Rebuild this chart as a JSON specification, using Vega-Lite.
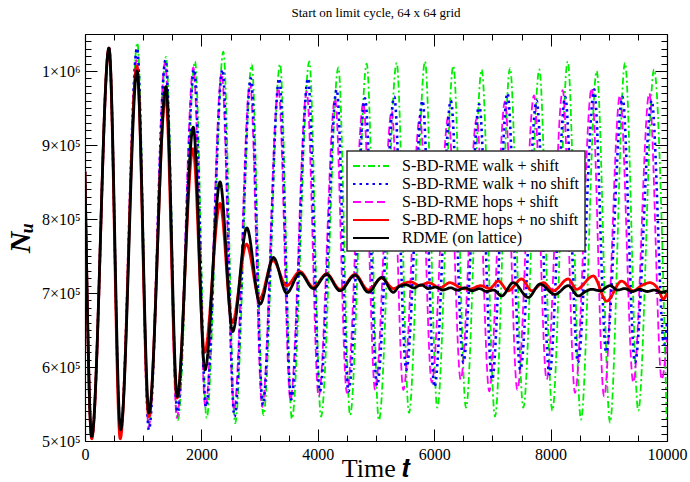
{
  "$schema": "https://vega.github.io/schema/vega-lite/v6.json",
  "width": 582,
  "height": 407,
  "autosize": "none",
  "padding": {"left": 85, "top": 34, "right": 23, "bottom": 41},
  "background": "white",
  "title": {"text": "Start on limit cycle, 64 x 64 grid", "font": "Liberation Serif", "fontSize": 13, "fontWeight": "normal", "color": "black", "anchor": "middle", "offset": 6},
  "config": {
    "view": {"stroke": null},
    "axis": {"domainColor": "black", "tickColor": "black", "labelColor": "black", "titleColor": "black", "grid": false, "domainWidth": 1.2, "tickWidth": 1},
    "legend": {"strokeWidth": 1.5, "labelFont": "Liberation Serif", "labelFontSize": 16}
  },
  "data": {"values": [
    {"series": "S-BD-RME walk + shift", "t": 0, "N": 864000},
    {"series": "S-BD-RME walk + shift", "t": 115, "N": 505000},
    {"series": "S-BD-RME walk + shift", "t": 412, "N": 1031000},
    {"series": "S-BD-RME walk + shift", "t": 612, "N": 506000},
    {"series": "S-BD-RME walk + shift", "t": 899, "N": 1038000},
    {"series": "S-BD-RME walk + shift", "t": 1100, "N": 524000},
    {"series": "S-BD-RME walk + shift", "t": 1392, "N": 1019000},
    {"series": "S-BD-RME walk + shift", "t": 1595, "N": 528000},
    {"series": "S-BD-RME walk + shift", "t": 1890, "N": 1013000},
    {"series": "S-BD-RME walk + shift", "t": 2090, "N": 531000},
    {"series": "S-BD-RME walk + shift", "t": 2377, "N": 1026000},
    {"series": "S-BD-RME walk + shift", "t": 2580, "N": 524000},
    {"series": "S-BD-RME walk + shift", "t": 2864, "N": 1009000},
    {"series": "S-BD-RME walk + shift", "t": 3065, "N": 535000},
    {"series": "S-BD-RME walk + shift", "t": 3351, "N": 1009000},
    {"series": "S-BD-RME walk + shift", "t": 3555, "N": 530000},
    {"series": "S-BD-RME walk + shift", "t": 3854, "N": 1013000},
    {"series": "S-BD-RME walk + shift", "t": 4055, "N": 533000},
    {"series": "S-BD-RME walk + shift", "t": 4353, "N": 1005000},
    {"series": "S-BD-RME walk + shift", "t": 4555, "N": 535000},
    {"series": "S-BD-RME walk + shift", "t": 4840, "N": 1010000},
    {"series": "S-BD-RME walk + shift", "t": 5050, "N": 528000},
    {"series": "S-BD-RME walk + shift", "t": 5355, "N": 1011000},
    {"series": "S-BD-RME walk + shift", "t": 5567, "N": 538000},
    {"series": "S-BD-RME walk + shift", "t": 5842, "N": 1013000},
    {"series": "S-BD-RME walk + shift", "t": 6053, "N": 545000},
    {"series": "S-BD-RME walk + shift", "t": 6329, "N": 1007000},
    {"series": "S-BD-RME walk + shift", "t": 6546, "N": 545000},
    {"series": "S-BD-RME walk + shift", "t": 6816, "N": 1002000},
    {"series": "S-BD-RME walk + shift", "t": 7045, "N": 533000},
    {"series": "S-BD-RME walk + shift", "t": 7302, "N": 1004000},
    {"series": "S-BD-RME walk + shift", "t": 7531, "N": 545000},
    {"series": "S-BD-RME walk + shift", "t": 7806, "N": 1002000},
    {"series": "S-BD-RME walk + shift", "t": 8030, "N": 541000},
    {"series": "S-BD-RME walk + shift", "t": 8294, "N": 1013000},
    {"series": "S-BD-RME walk + shift", "t": 8522, "N": 529000},
    {"series": "S-BD-RME walk + shift", "t": 8792, "N": 1000000},
    {"series": "S-BD-RME walk + shift", "t": 9021, "N": 525000},
    {"series": "S-BD-RME walk + shift", "t": 9278, "N": 1011000},
    {"series": "S-BD-RME walk + shift", "t": 9507, "N": 541000},
    {"series": "S-BD-RME walk + shift", "t": 9777, "N": 1002000},
    {"series": "S-BD-RME walk + shift", "t": 9994, "N": 529000},

    {"series": "S-BD-RME hops + shift", "t": 0, "N": 864000},
    {"series": "S-BD-RME hops + shift", "t": 115, "N": 505000},
    {"series": "S-BD-RME hops + shift", "t": 412, "N": 1031000},
    {"series": "S-BD-RME hops + shift", "t": 605, "N": 506000},
    {"series": "S-BD-RME hops + shift", "t": 888, "N": 1015000},
    {"series": "S-BD-RME hops + shift", "t": 1095, "N": 519000},
    {"series": "S-BD-RME hops + shift", "t": 1375, "N": 1011000},
    {"series": "S-BD-RME hops + shift", "t": 1580, "N": 531000},
    {"series": "S-BD-RME hops + shift", "t": 1862, "N": 1005000},
    {"series": "S-BD-RME hops + shift", "t": 2070, "N": 545000},
    {"series": "S-BD-RME hops + shift", "t": 2348, "N": 997000},
    {"series": "S-BD-RME hops + shift", "t": 2560, "N": 542000},
    {"series": "S-BD-RME hops + shift", "t": 2835, "N": 984000},
    {"series": "S-BD-RME hops + shift", "t": 3045, "N": 546000},
    {"series": "S-BD-RME hops + shift", "t": 3322, "N": 977000},
    {"series": "S-BD-RME hops + shift", "t": 3530, "N": 556000},
    {"series": "S-BD-RME hops + shift", "t": 3809, "N": 972000},
    {"series": "S-BD-RME hops + shift", "t": 4015, "N": 560000},
    {"series": "S-BD-RME hops + shift", "t": 4296, "N": 963000},
    {"series": "S-BD-RME hops + shift", "t": 4500, "N": 565000},
    {"series": "S-BD-RME hops + shift", "t": 4782, "N": 957000},
    {"series": "S-BD-RME hops + shift", "t": 4985, "N": 569000},
    {"series": "S-BD-RME hops + shift", "t": 5270, "N": 946000},
    {"series": "S-BD-RME hops + shift", "t": 5470, "N": 569000},
    {"series": "S-BD-RME hops + shift", "t": 5756, "N": 939000},
    {"series": "S-BD-RME hops + shift", "t": 5957, "N": 579000},
    {"series": "S-BD-RME hops + shift", "t": 6243, "N": 939000},
    {"series": "S-BD-RME hops + shift", "t": 6455, "N": 583000},
    {"series": "S-BD-RME hops + shift", "t": 6730, "N": 936000},
    {"series": "S-BD-RME hops + shift", "t": 6946, "N": 567000},
    {"series": "S-BD-RME hops + shift", "t": 7216, "N": 959000},
    {"series": "S-BD-RME hops + shift", "t": 7428, "N": 569000},
    {"series": "S-BD-RME hops + shift", "t": 7715, "N": 967000},
    {"series": "S-BD-RME hops + shift", "t": 7932, "N": 583000},
    {"series": "S-BD-RME hops + shift", "t": 8208, "N": 974000},
    {"series": "S-BD-RME hops + shift", "t": 8419, "N": 565000},
    {"series": "S-BD-RME hops + shift", "t": 8706, "N": 977000},
    {"series": "S-BD-RME hops + shift", "t": 8918, "N": 560000},
    {"series": "S-BD-RME hops + shift", "t": 9192, "N": 967000},
    {"series": "S-BD-RME hops + shift", "t": 9421, "N": 579000},
    {"series": "S-BD-RME hops + shift", "t": 9696, "N": 970000},
    {"series": "S-BD-RME hops + shift", "t": 9909, "N": 583000},
    {"series": "S-BD-RME hops + shift", "t": 10000, "N": 640000},

    {"series": "S-BD-RME walk + no shift", "t": 0, "N": 864000},
    {"series": "S-BD-RME walk + no shift", "t": 115, "N": 504000},
    {"series": "S-BD-RME walk + no shift", "t": 412, "N": 1031000},
    {"series": "S-BD-RME walk + no shift", "t": 608, "N": 511000},
    {"series": "S-BD-RME walk + no shift", "t": 894, "N": 1031000},
    {"series": "S-BD-RME walk + no shift", "t": 1098, "N": 515000},
    {"series": "S-BD-RME walk + no shift", "t": 1384, "N": 1015000},
    {"series": "S-BD-RME walk + no shift", "t": 1588, "N": 539000},
    {"series": "S-BD-RME walk + no shift", "t": 1876, "N": 1002000},
    {"series": "S-BD-RME walk + no shift", "t": 2080, "N": 546000},
    {"series": "S-BD-RME walk + no shift", "t": 2362, "N": 1002000},
    {"series": "S-BD-RME walk + no shift", "t": 2568, "N": 533000},
    {"series": "S-BD-RME walk + no shift", "t": 2850, "N": 990000},
    {"series": "S-BD-RME walk + no shift", "t": 3055, "N": 549000},
    {"series": "S-BD-RME walk + no shift", "t": 3337, "N": 990000},
    {"series": "S-BD-RME walk + no shift", "t": 3543, "N": 556000},
    {"series": "S-BD-RME walk + no shift", "t": 3832, "N": 990000},
    {"series": "S-BD-RME walk + no shift", "t": 4035, "N": 567000},
    {"series": "S-BD-RME walk + no shift", "t": 4325, "N": 975000},
    {"series": "S-BD-RME walk + no shift", "t": 4527, "N": 567000},
    {"series": "S-BD-RME walk + no shift", "t": 4811, "N": 963000},
    {"series": "S-BD-RME walk + no shift", "t": 5018, "N": 575000},
    {"series": "S-BD-RME walk + no shift", "t": 5313, "N": 965000},
    {"series": "S-BD-RME walk + no shift", "t": 5520, "N": 596000},
    {"series": "S-BD-RME walk + no shift", "t": 5799, "N": 960000},
    {"series": "S-BD-RME walk + no shift", "t": 6005, "N": 573000},
    {"series": "S-BD-RME walk + no shift", "t": 6286, "N": 960000},
    {"series": "S-BD-RME walk + no shift", "t": 6500, "N": 606000},
    {"series": "S-BD-RME walk + no shift", "t": 6773, "N": 955000},
    {"series": "S-BD-RME walk + no shift", "t": 6995, "N": 583000},
    {"series": "S-BD-RME walk + no shift", "t": 7259, "N": 970000},
    {"series": "S-BD-RME walk + no shift", "t": 7480, "N": 596000},
    {"series": "S-BD-RME walk + no shift", "t": 7760, "N": 960000},
    {"series": "S-BD-RME walk + no shift", "t": 7980, "N": 590000},
    {"series": "S-BD-RME walk + no shift", "t": 8251, "N": 965000},
    {"series": "S-BD-RME walk + no shift", "t": 8470, "N": 606000},
    {"series": "S-BD-RME walk + no shift", "t": 8749, "N": 975000},
    {"series": "S-BD-RME walk + no shift", "t": 8955, "N": 620000},
    {"series": "S-BD-RME walk + no shift", "t": 9235, "N": 965000},
    {"series": "S-BD-RME walk + no shift", "t": 9450, "N": 606000},
    {"series": "S-BD-RME walk + no shift", "t": 9737, "N": 960000},
    {"series": "S-BD-RME walk + no shift", "t": 9950, "N": 630000},
    {"series": "S-BD-RME walk + no shift", "t": 10000, "N": 660000},

    {"series": "S-BD-RME hops + no shift", "t": 0, "N": 864000},
    {"series": "S-BD-RME hops + no shift", "t": 115, "N": 503000},
    {"series": "S-BD-RME hops + no shift", "t": 412, "N": 1031000},
    {"series": "S-BD-RME hops + no shift", "t": 605, "N": 503000},
    {"series": "S-BD-RME hops + no shift", "t": 890, "N": 1007000},
    {"series": "S-BD-RME hops + no shift", "t": 1095, "N": 533000},
    {"series": "S-BD-RME hops + no shift", "t": 1385, "N": 966000},
    {"series": "S-BD-RME hops + no shift", "t": 1580, "N": 558000},
    {"series": "S-BD-RME hops + no shift", "t": 1855, "N": 895000},
    {"series": "S-BD-RME hops + no shift", "t": 2055, "N": 620000},
    {"series": "S-BD-RME hops + no shift", "t": 2320, "N": 821000},
    {"series": "S-BD-RME hops + no shift", "t": 2530, "N": 660000},
    {"series": "S-BD-RME hops + no shift", "t": 2775, "N": 766000},
    {"series": "S-BD-RME hops + no shift", "t": 3000, "N": 692000},
    {"series": "S-BD-RME hops + no shift", "t": 3230, "N": 744000},
    {"series": "S-BD-RME hops + no shift", "t": 3465, "N": 710000},
    {"series": "S-BD-RME hops + no shift", "t": 3694, "N": 729000},
    {"series": "S-BD-RME hops + no shift", "t": 3923, "N": 708000},
    {"series": "S-BD-RME hops + no shift", "t": 4152, "N": 726000},
    {"series": "S-BD-RME hops + no shift", "t": 4381, "N": 705000},
    {"series": "S-BD-RME hops + no shift", "t": 4639, "N": 725000},
    {"series": "S-BD-RME hops + no shift", "t": 4868, "N": 704000},
    {"series": "S-BD-RME hops + no shift", "t": 5097, "N": 720000},
    {"series": "S-BD-RME hops + no shift", "t": 5300, "N": 706000},
    {"series": "S-BD-RME hops + no shift", "t": 5450, "N": 712000},
    {"series": "S-BD-RME hops + no shift", "t": 5600, "N": 715000},
    {"series": "S-BD-RME hops + no shift", "t": 5750, "N": 710000},
    {"series": "S-BD-RME hops + no shift", "t": 5900, "N": 714000},
    {"series": "S-BD-RME hops + no shift", "t": 6100, "N": 707000},
    {"series": "S-BD-RME hops + no shift", "t": 6271, "N": 714000},
    {"series": "S-BD-RME hops + no shift", "t": 6430, "N": 708000},
    {"series": "S-BD-RME hops + no shift", "t": 6600, "N": 705000},
    {"series": "S-BD-RME hops + no shift", "t": 6800, "N": 710000},
    {"series": "S-BD-RME hops + no shift", "t": 6950, "N": 706000},
    {"series": "S-BD-RME hops + no shift", "t": 7101, "N": 716000},
    {"series": "S-BD-RME hops + no shift", "t": 7273, "N": 703000},
    {"series": "S-BD-RME hops + no shift", "t": 7503, "N": 719000},
    {"series": "S-BD-RME hops + no shift", "t": 7675, "N": 703000},
    {"series": "S-BD-RME hops + no shift", "t": 7875, "N": 714000},
    {"series": "S-BD-RME hops + no shift", "t": 8046, "N": 703000},
    {"series": "S-BD-RME hops + no shift", "t": 8304, "N": 719000},
    {"series": "S-BD-RME hops + no shift", "t": 8447, "N": 705000},
    {"series": "S-BD-RME hops + no shift", "t": 8733, "N": 723000},
    {"series": "S-BD-RME hops + no shift", "t": 8963, "N": 689000},
    {"series": "S-BD-RME hops + no shift", "t": 9220, "N": 716000},
    {"series": "S-BD-RME hops + no shift", "t": 9420, "N": 703000},
    {"series": "S-BD-RME hops + no shift", "t": 9560, "N": 710000},
    {"series": "S-BD-RME hops + no shift", "t": 9707, "N": 714000},
    {"series": "S-BD-RME hops + no shift", "t": 9850, "N": 705000},
    {"series": "S-BD-RME hops + no shift", "t": 9936, "N": 692000},
    {"series": "S-BD-RME hops + no shift", "t": 10000, "N": 700000},

    {"series": "RDME (on lattice)", "t": 0, "N": 864000},
    {"series": "RDME (on lattice)", "t": 115, "N": 506000},
    {"series": "RDME (on lattice)", "t": 412, "N": 1031000},
    {"series": "RDME (on lattice)", "t": 612, "N": 515000},
    {"series": "RDME (on lattice)", "t": 894, "N": 1000000},
    {"series": "RDME (on lattice)", "t": 1100, "N": 538000},
    {"series": "RDME (on lattice)", "t": 1390, "N": 979000},
    {"series": "RDME (on lattice)", "t": 1586, "N": 560000},
    {"series": "RDME (on lattice)", "t": 1860, "N": 924000},
    {"series": "RDME (on lattice)", "t": 2062, "N": 596000},
    {"series": "RDME (on lattice)", "t": 2320, "N": 850000},
    {"series": "RDME (on lattice)", "t": 2537, "N": 648000},
    {"series": "RDME (on lattice)", "t": 2780, "N": 788000},
    {"series": "RDME (on lattice)", "t": 3007, "N": 685000},
    {"series": "RDME (on lattice)", "t": 3236, "N": 748000},
    {"series": "RDME (on lattice)", "t": 3465, "N": 700000},
    {"series": "RDME (on lattice)", "t": 3694, "N": 727000},
    {"series": "RDME (on lattice)", "t": 3923, "N": 706000},
    {"series": "RDME (on lattice)", "t": 4152, "N": 725000},
    {"series": "RDME (on lattice)", "t": 4381, "N": 703000},
    {"series": "RDME (on lattice)", "t": 4639, "N": 724000},
    {"series": "RDME (on lattice)", "t": 4868, "N": 701000},
    {"series": "RDME (on lattice)", "t": 5097, "N": 721000},
    {"series": "RDME (on lattice)", "t": 5297, "N": 701000},
    {"series": "RDME (on lattice)", "t": 5400, "N": 709000},
    {"series": "RDME (on lattice)", "t": 5520, "N": 711000},
    {"series": "RDME (on lattice)", "t": 5650, "N": 707000},
    {"series": "RDME (on lattice)", "t": 5780, "N": 711000},
    {"series": "RDME (on lattice)", "t": 5900, "N": 706000},
    {"series": "RDME (on lattice)", "t": 6020, "N": 708000},
    {"series": "RDME (on lattice)", "t": 6150, "N": 704000},
    {"series": "RDME (on lattice)", "t": 6280, "N": 707000},
    {"series": "RDME (on lattice)", "t": 6400, "N": 704000},
    {"series": "RDME (on lattice)", "t": 6530, "N": 707000},
    {"series": "RDME (on lattice)", "t": 6650, "N": 703000},
    {"series": "RDME (on lattice)", "t": 6780, "N": 706000},
    {"series": "RDME (on lattice)", "t": 6900, "N": 702000},
    {"series": "RDME (on lattice)", "t": 7020, "N": 704000},
    {"series": "RDME (on lattice)", "t": 7159, "N": 696000},
    {"series": "RDME (on lattice)", "t": 7359, "N": 714000},
    {"series": "RDME (on lattice)", "t": 7617, "N": 694000},
    {"series": "RDME (on lattice)", "t": 7817, "N": 712000},
    {"series": "RDME (on lattice)", "t": 8075, "N": 698000},
    {"series": "RDME (on lattice)", "t": 8304, "N": 710000},
    {"series": "RDME (on lattice)", "t": 8476, "N": 696000},
    {"series": "RDME (on lattice)", "t": 8600, "N": 702000},
    {"series": "RDME (on lattice)", "t": 8706, "N": 705000},
    {"series": "RDME (on lattice)", "t": 8850, "N": 703000},
    {"series": "RDME (on lattice)", "t": 9021, "N": 710000},
    {"series": "RDME (on lattice)", "t": 9150, "N": 704000},
    {"series": "RDME (on lattice)", "t": 9280, "N": 706000},
    {"series": "RDME (on lattice)", "t": 9400, "N": 702000},
    {"series": "RDME (on lattice)", "t": 9530, "N": 705000},
    {"series": "RDME (on lattice)", "t": 9660, "N": 702000},
    {"series": "RDME (on lattice)", "t": 9780, "N": 704000},
    {"series": "RDME (on lattice)", "t": 9900, "N": 701000},
    {"series": "RDME (on lattice)", "t": 10000, "N": 703000}
  ]},
  "layer": [
    {
      "transform": [{"filter": {"field": "series", "oneOf": ["S-BD-RME walk + shift", "S-BD-RME hops + shift", "S-BD-RME walk + no shift"]}}],
      "mark": {"type": "line", "interpolate": "monotone", "clip": true},
      "encoding": {
        "x": {"field": "t", "type": "quantitative", "scale": {"domain": [0, 10000], "nice": false, "zero": false},
          "axis": {"orient": "bottom", "values": [0,500,1000,1500,2000,2500,3000,3500,4000,4500,5000,5500,6000,6500,7000,7500,8000,8500,9000,9500,10000],
            "format": "d", "labelExpr": "datum.value % 2000 === 0 ? datum.label : ''",
            "tickSize": {"condition": {"test": "datum.value % 2000 === 0", "value": -12}, "value": -6},
            "labelFont": "Liberation Serif", "labelFontSize": 16, "labelPadding": 17, "labelOverlap": false, "labelFlush": false,
            "title": "Time 𝒕", "titleFont": "Liberation Serif", "titleFontSize": 26, "titleFontWeight": "normal", "titlePadding": -13}},
        "y": {"field": "N", "type": "quantitative", "scale": {"domain": [500000, 1050000], "nice": false, "zero": false},
          "axis": {"orient": "left", "values": [500000,510000,520000,530000,540000,550000,560000,570000,580000,590000,600000,610000,620000,630000,640000,650000,660000,670000,680000,690000,700000,710000,720000,730000,740000,750000,760000,770000,780000,790000,800000,810000,820000,830000,840000,850000,860000,870000,880000,890000,900000,910000,920000,930000,940000,950000,960000,970000,980000,990000,1000000,1010000,1020000,1030000,1040000,1050000],
            "labelExpr": "datum.value % 100000 === 0 ? (datum.value === 1000000 ? '1×10⁶' : (datum.value / 100000) + '×10⁵') : ''",
            "tickSize": {"condition": {"test": "datum.value % 100000 === 0", "value": -12}, "value": -6},
            "labelFont": "Liberation Serif", "labelFontSize": 16, "labelPadding": 17, "labelOverlap": false, "labelFlush": false,
            "title": "Nᵤ", "titleFont": "Liberation Serif", "titleFontSize": 30, "titleFontWeight": "bold", "titleFontStyle": "italic", "titlePadding": 6}},
        "color": {"field": "series", "type": "nominal",
          "scale": {"domain": ["S-BD-RME walk + shift", "S-BD-RME walk + no shift", "S-BD-RME hops + shift", "S-BD-RME hops + no shift", "RDME (on lattice)"], "range": ["#00ee00", "#0000ff", "#ff00ff", "#ff0000", "#000000"]},
          "legend": {"title": null, "orient": "none", "legendX": 262, "legendY": 117, "symbolType": "M-2,0L2,0", "symbolSize": 324, "symbolOffset": 9, "labelOffset": 21, "symbolStrokeWidth": 2, "labelFont": "Liberation Serif", "labelFontSize": 16, "labelColor": "black", "labelLimit": 0, "strokeColor": "#333333", "fillColor": "white", "padding": 5, "rowPadding": 0}},
        "strokeDash": {"field": "series", "type": "nominal",
          "scale": {"domain": ["S-BD-RME walk + shift", "S-BD-RME walk + no shift", "S-BD-RME hops + shift", "S-BD-RME hops + no shift", "RDME (on lattice)"], "range": [[7, 3, 2, 3], [2.5, 4], [8, 4], [1, 0], [1, 0]]},
          "legend": {"title": null, "orient": "none", "legendX": 262, "legendY": 117, "symbolType": "M-2,0L2,0", "symbolSize": 324, "symbolOffset": 9, "labelOffset": 21, "symbolStrokeWidth": 2, "labelFont": "Liberation Serif", "labelFontSize": 16, "labelColor": "black", "labelLimit": 0, "strokeColor": "#333333", "fillColor": "white", "padding": 5, "rowPadding": 0}},
        "strokeWidth": {"condition": {"test": "datum.series === 'S-BD-RME walk + no shift'", "value": 2.6}, "value": 1.8}
      }
    },
    {
      "transform": [{"filter": {"field": "series", "oneOf": ["S-BD-RME hops + no shift", "RDME (on lattice)"]}}],
      "mark": {"type": "line", "interpolate": "monotone", "clip": true, "strokeWidth": 2.8},
      "encoding": {
        "x": {"field": "t", "type": "quantitative",
          "axis": {"orient": "top", "values": [0,500,1000,1500,2000,2500,3000,3500,4000,4500,5000,5500,6000,6500,7000,7500,8000,8500,9000,9500,10000],
            "labels": false, "title": null,
            "tickSize": {"condition": {"test": "datum.value % 2000 === 0", "value": -12}, "value": -6}}},
        "y": {"field": "N", "type": "quantitative",
          "axis": {"orient": "right", "values": [500000,510000,520000,530000,540000,550000,560000,570000,580000,590000,600000,610000,620000,630000,640000,650000,660000,670000,680000,690000,700000,710000,720000,730000,740000,750000,760000,770000,780000,790000,800000,810000,820000,830000,840000,850000,860000,870000,880000,890000,900000,910000,920000,930000,940000,950000,960000,970000,980000,990000,1000000,1010000,1020000,1030000,1040000,1050000],
            "labels": false, "title": null,
            "tickSize": {"condition": {"test": "datum.value % 100000 === 0", "value": -12}, "value": -6}}},
        "color": {"field": "series", "type": "nominal",
          "scale": {"domain": ["S-BD-RME walk + shift", "S-BD-RME walk + no shift", "S-BD-RME hops + shift", "S-BD-RME hops + no shift", "RDME (on lattice)"], "range": ["#00ee00", "#0000ff", "#ff00ff", "#ff0000", "#000000"]}},
        "strokeDash": {"field": "series", "type": "nominal",
          "scale": {"domain": ["S-BD-RME walk + shift", "S-BD-RME walk + no shift", "S-BD-RME hops + shift", "S-BD-RME hops + no shift", "RDME (on lattice)"], "range": [[7, 3, 2, 3], [2.5, 4], [8, 4], [1, 0], [1, 0]]}}
      }
    }
  ],
  "resolve": {"axis": {"x": "independent", "y": "independent"}}
}
